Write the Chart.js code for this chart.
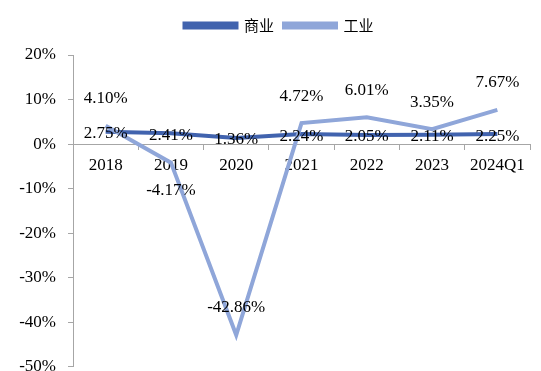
<!DOCTYPE html>
<html>
<head>
<meta charset="utf-8">
<script src="https://cdn.jsdelivr.net/npm/chart.js@4"></script>
<style>
  html, body { margin: 0; padding: 0; background: #fff; overflow: hidden; }
  #wrap { width: 541px; height: 371px; overflow: hidden; }
</style>
</head>
<body>
<!-- the canvas runs past the bottom edge so the lowest tick label is clipped -->
<div id="wrap"><canvas id="chart" width="541" height="389"></canvas></div>
<script>
const labels = ['2018', '2019', '2020', '2021', '2022', '2023', '2024Q1'];
const shangye = [2.75, 2.41, 1.36, 2.24, 2.05, 2.11, 2.25];
const gongye = [4.10, -4.17, -42.86, 4.72, 6.01, 3.35, 7.67];
// which 工业 labels sit under their point
const gongyeBelow = [false, true, false, false, false, false, false];

const serif = "'Liberation Serif', 'Times New Roman', serif";

// plain text value labels, drawn after the lines
const valueLabels = {
    id: 'valueLabels',
    afterDatasetsDraw(chart) {
        const ctx = chart.ctx;
        ctx.save();
        ctx.font = '17px ' + serif;
        ctx.fillStyle = '#000';
        ctx.textAlign = 'center';
        ctx.textBaseline = 'middle';
        chart.data.datasets.forEach((ds, di) => {
            const meta = chart.getDatasetMeta(di);
            meta.data.forEach((pt, i) => {
                const v = ds.data[i];
                let y = pt.y + 2;
                if (ds.label === '工业') y = gongyeBelow[i] ? pt.y + 28 : pt.y - 27;
                ctx.fillText(v.toFixed(2) + '%', pt.x, y);
            });
        });
        ctx.restore();
    }
};

// more room under the legend, and nudge it a little right
const legendSpace = {
    id: 'legendSpace',
    beforeInit(chart) {
        const fit = chart.legend.fit;
        chart.legend.fit = function () {
            fit.bind(this)();
            this.height += 12;
        };
    },
    afterLayout(chart) {
        chart.legend.left += 14;
        chart.legend.right += 14;
    }
};

const ctx = document.getElementById('chart').getContext('2d');
new Chart(ctx, {
    type: 'line',
    data: {
        labels: labels,
        datasets: [{
            label: '商业',
            data: shangye,
            borderColor: '#4163ae',
            backgroundColor: '#4163ae',
            borderWidth: 4,
            pointRadius: 0,
            order: 1
        }, {
            label: '工业',
            data: gongye,
            borderColor: '#8fa6d9',
            backgroundColor: '#8fa6d9',
            borderWidth: 4,
            pointRadius: 0,
            order: 0
        }]
    },
    options: {
        responsive: false,
        animation: false,
        layout: { padding: { top: 8, right: 11, bottom: 0, left: 0 } },
        plugins: {
            legend: {
                position: 'top',
                labels: {
                    boxWidth: 52,
                    boxHeight: 4,
                    padding: 10,
                    color: '#000',
                    font: { family: "'Noto Sans CJK SC'", size: 15 },
                    sort: (a, b) => a.datasetIndex - b.datasetIndex
                }
            },
            tooltip: { enabled: false }
        },
        scales: {
            x: {
                position: { y: 0 },
                offset: true,
                afterFit: (scale) => { scale.height = 0; },
                grid: {
                    offset: true,
                    drawOnChartArea: false,
                    drawTicks: true,
                    tickLength: 5,
                    color: '#a6a6a6'
                },
                border: { color: '#a6a6a6', width: 1 },
                ticks: {
                    color: '#000',
                    padding: 6,
                    maxRotation: 0,
                    font: { family: serif, size: 17 }
                }
            },
            y: {
                min: -50,
                max: 20,
                afterFit: (scale) => { scale.width = 73; },
                grid: {
                    drawOnChartArea: false,
                    drawTicks: true,
                    tickLength: 5,
                    color: '#a6a6a6'
                },
                border: { color: '#a6a6a6', width: 1 },
                ticks: {
                    stepSize: 10,
                    color: '#000',
                    padding: 12,
                    font: { family: serif, size: 17 },
                    callback: (v) => v + '%'
                }
            }
        }
    },
    plugins: [valueLabels, legendSpace]
});
</script>
</body>
</html>
